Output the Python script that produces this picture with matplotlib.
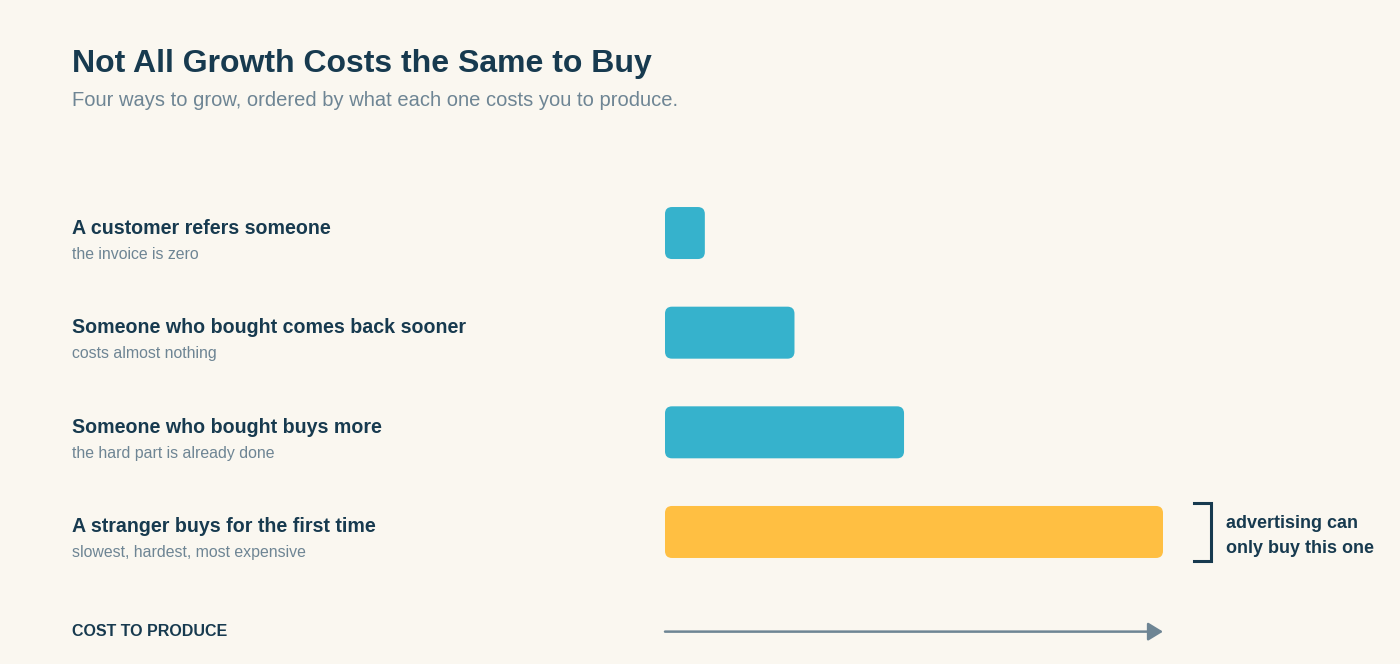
import matplotlib
matplotlib.use("Agg")
import matplotlib.pyplot as plt
from matplotlib.patches import FancyBboxPatch
from matplotlib.transforms import blended_transform_factory

plt.rcParams['font.family'] = ['Liberation Sans', 'DejaVu Sans']

# Datos
labels = ["A customer refers someone",
          "Someone who bought comes back sooner",
          "Someone who bought buys more",
          "A stranger buys for the first time"]
sublabels = ["the invoice is zero",
             "costs almost nothing",
             "the hard part is already done",
             "slowest, hardest, most expensive"]
costs = [8, 26, 48, 100]
colors = ["#36b2cc", "#36b2cc", "#36b2cc", "#ffbf42"]

BG = "#faf7f0"
NAVY = "#173a4f"
GREY = "#6e8594"

W, H = 1400, 664
fig = plt.figure(figsize=(W / 100, H / 100), dpi=100, facecolor=BG)

# axes: x 0..100 over px 665..1163, rows every ~100 px
ax_left, ax_right = 665, 1163
ax_top, ax_bot = 183.2, 581.8
ax = fig.add_axes([ax_left / W, 1 - ax_bot / H, (ax_right - ax_left) / W, (ax_bot - ax_top) / H])
ax.set_facecolor(BG)
ax.set_xlim(0, 100)
ax.set_ylim(len(costs) - 0.5, -0.5)
ax.axis("off")

px_x = 100 / (ax_right - ax_left)          # data units per px (x)
px_y = len(costs) / (ax_bot - ax_top)      # data units per px (y)
bar_h = 52 * px_y
radius = 7 * px_x

for i, (v, c) in enumerate(zip(costs, colors)):
    box = FancyBboxPatch((0, i - bar_h / 2), v, bar_h,
                         boxstyle=f"round,pad=0,rounding_size={radius}",
                         mutation_aspect=px_y / px_x,
                         facecolor=c, edgecolor="none")
    ax.add_patch(box)

# etiquetas de la izquierda
tr = blended_transform_factory(fig.transFigure, ax.transData)
for i, (lab, sub) in enumerate(zip(labels, sublabels)):
    ax.text(72 / W, i - 5 * px_y, lab, transform=tr, ha="left", va="center",
            fontsize=14.1, fontweight="bold", color=NAVY)
    ax.text(72 / W, i + 21 * px_y, sub, transform=tr, ha="left", va="center",
            fontsize=11.4, color=GREY)

# corchete para la última barra
last = len(costs) - 1
bx0 = costs[last] + 31 * px_x
bx1 = costs[last] + 48 * px_x
by0 = last - 29 * px_y
by1 = last + 29 * px_y
ax.plot([bx0, bx1, bx1, bx0], [by0, by0, by1, by1], color=NAVY, lw=2.2,
        solid_joinstyle="miter", clip_on=False)
ax.text(costs[last] + 63 * px_x, last + 4 * px_y, "advertising can\nonly buy this one",
        ha="left", va="center", fontsize=13, fontweight="bold", color=NAVY,
        linespacing=1.6, clip_on=False)

# eje de coste
arrow_y = len(costs)
ax.annotate("", xy=(max(costs), arrow_y), xytext=(0, arrow_y),
            arrowprops=dict(arrowstyle="-|>,head_length=0.9,head_width=0.55",
                            color=GREY, lw=1.8, shrinkA=0, shrinkB=0),
            annotation_clip=False)
ax.text(72 / W, arrow_y, "COST TO PRODUCE", transform=tr, ha="left", va="center",
        fontsize=11.5, fontweight="bold", color=NAVY)

# títulos
fig.text(72 / W, 1 - 72 / H, "Not All Growth Costs the Same to Buy",
         ha="left", va="baseline", fontsize=23, fontweight="bold", color=NAVY)
fig.text(72 / W, 1 - 106 / H, "Four ways to grow, ordered by what each one costs you to produce.",
         ha="left", va="baseline", fontsize=14.5, color=GREY)

fig.savefig("out.png", dpi=100, facecolor=BG)
